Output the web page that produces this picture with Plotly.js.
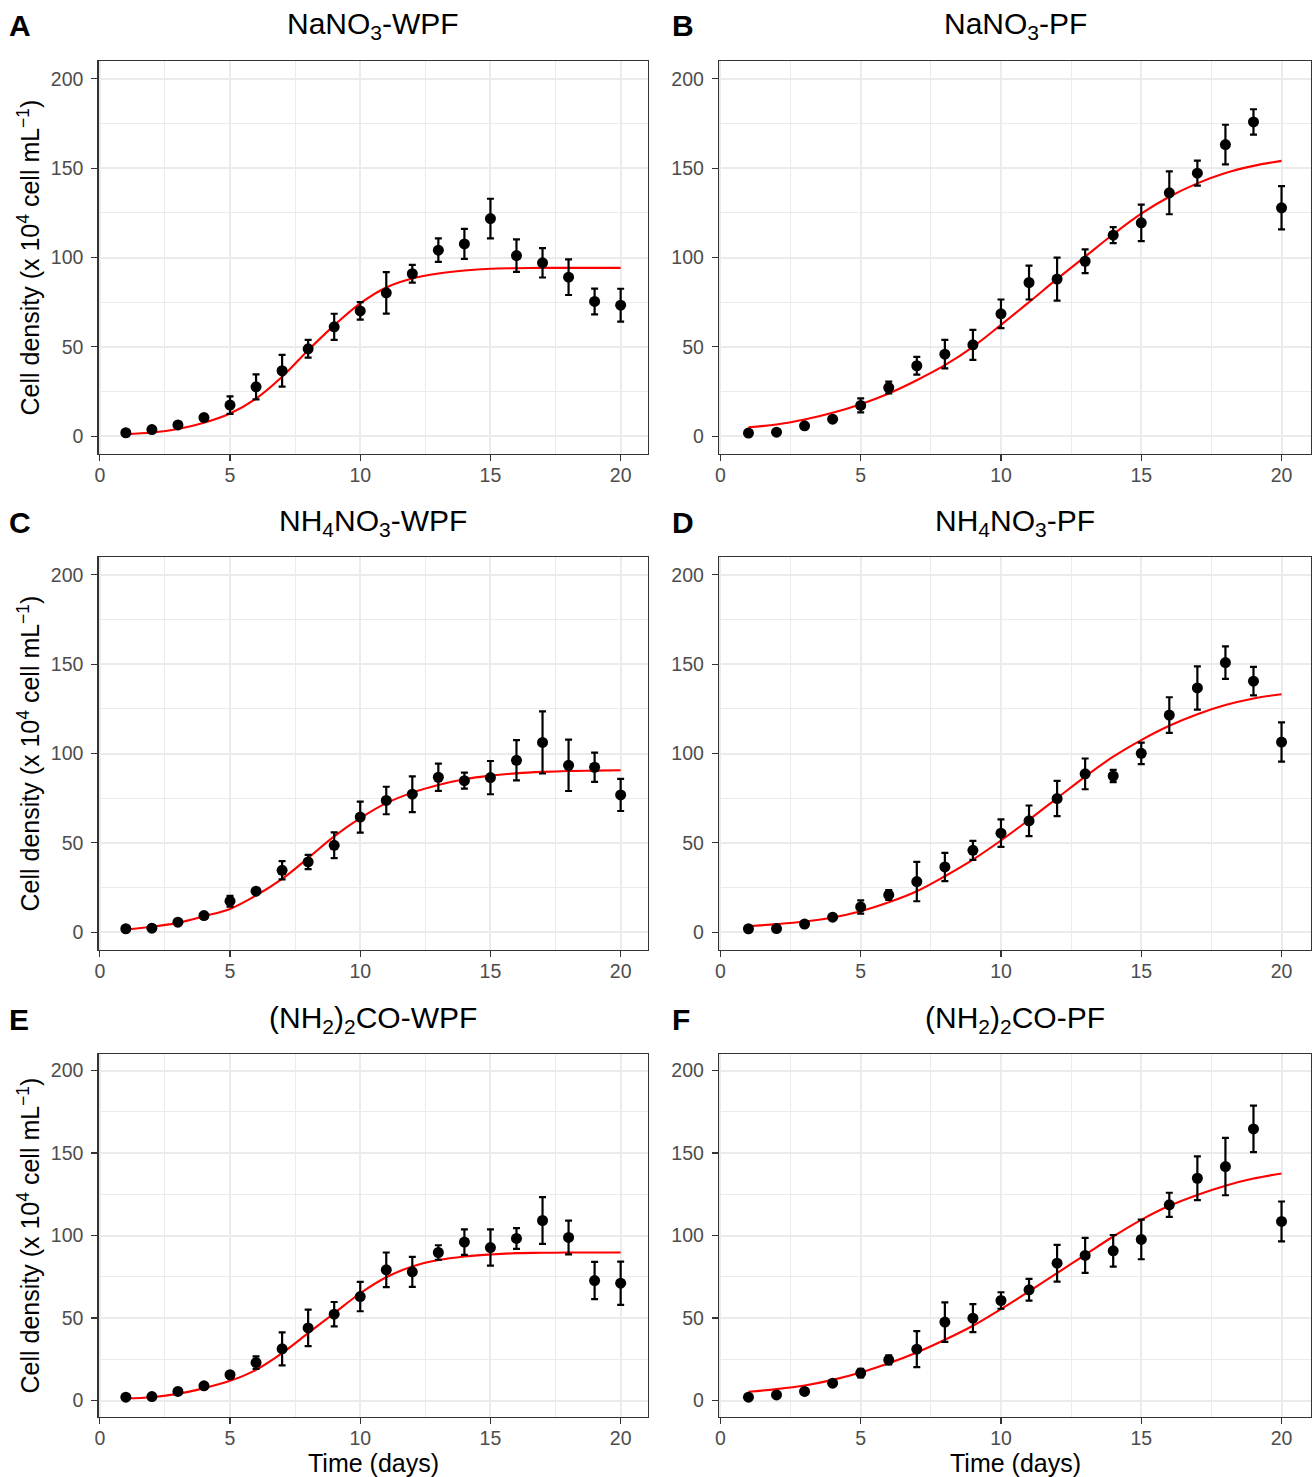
<!DOCTYPE html>
<html>
<head>
<meta charset="utf-8">
<script src="https://cdn.plot.ly/plotly-3.0.1.min.js"></script>
<style>
html,body{margin:0;padding:0;background:#ffffff;}
#chart{width:1312px;height:1477px;}
</style>
</head>
<body>
<div id="chart"></div>
<script>
// ---------------- DATA ----------------
const days = [1,2,3,4,5,6,7,8,9,10,11,12,13,14,15,16,17,18,19,20];
const xTicks = [0,5,10,15,20];
const yTicks = [0,50,100,150,200];

const panelLetters = ['A','B','C','D','E','F'];
const panelTitles = [
  'NaNO<sub>3</sub>-WPF',
  'NaNO<sub>3</sub>-PF',
  'NH<sub>4</sub>NO<sub>3</sub>-WPF',
  'NH<sub>4</sub>NO<sub>3</sub>-PF',
  '(NH<sub>2</sub>)<sub>2</sub>CO-WPF',
  '(NH<sub>2</sub>)<sub>2</sub>CO-PF'
];
const yTitle = 'Cell density (x 10<sup>4</sup> cell mL<sup>−1</sup>)';
const xTitle = 'Time (days)';

// A: NaNO3-WPF
const meanA = [1.9,3.7,6.3,10.4,17.4,27.6,36.6,48.9,61.2,70.1,80.2,90.9,104.1,107.6,121.8,101.1,97.0,89.0,75.4,73.3];
const errA  = [0.5,0.8,1.0,1.5,4.9,7.0,8.9,5.0,7.3,4.9,11.6,5.0,6.6,8.4,11.1,9.1,8.2,10.0,7.2,9.2];
const fitA  = [1.1,2.0,4.0,7.5,12.7,21.0,33.2,48.1,62.0,74.3,83.2,88.2,91.0,92.7,93.7,94.0,94.2,94.2,94.2,94.2];

// B: NaNO3-PF
const meanB = [1.7,2.2,5.8,9.5,17.2,27.2,39.4,45.9,51.1,68.5,86.0,87.9,97.9,112.5,119.4,136.2,147.2,163.2,175.9,127.8];
const errB  = [0.5,0.6,1.0,1.2,3.9,3.3,5.0,8.0,8.4,8.0,9.5,12.0,6.6,4.5,10.2,12.0,7.0,11.1,7.1,12.1];
const fitB  = [5.0,6.5,9.3,13.1,17.9,23.9,31.3,39.7,50.0,62.3,75.0,88.0,100.5,113.0,124.5,134.0,141.5,147.3,151.3,154.1];

// C: NH4NO3-WPF
const meanC = [1.9,2.2,5.6,9.3,17.3,22.9,34.6,39.3,48.6,64.4,73.7,77.2,86.7,84.8,86.5,96.2,106.2,93.4,92.3,76.8];
const errC  = [0.5,0.6,1.0,1.2,3.0,1.5,5.1,4.0,7.2,8.7,7.7,10.0,7.6,4.5,9.3,11.3,17.4,14.4,8.2,9.0];
const fitC  = [1.5,3.0,5.2,8.9,13.0,20.5,29.8,41.5,53.6,63.8,72.2,78.1,82.4,85.6,87.6,88.9,89.7,90.2,90.4,90.6];

// D: NH4NO3-PF
const meanD = [1.9,2.0,4.5,8.4,14.1,20.8,28.3,36.5,45.8,55.4,62.3,74.8,88.6,87.4,100.1,121.5,136.7,150.9,140.5,106.4];
const errD  = [0.5,0.5,0.8,1.0,3.7,2.8,11.0,7.9,5.3,7.7,8.6,9.9,8.6,3.4,6.0,10.0,12.1,9.1,8.0,11.0];
const fitD  = [3.3,4.5,6.0,8.2,11.7,16.7,22.9,31.3,40.6,51.3,62.9,75.0,87.1,98.2,107.5,115.5,122.0,127.1,130.8,133.2];

// E: (NH2)2CO-WPF
const meanE = [2.0,2.4,5.5,8.9,15.6,23.0,31.3,44.0,52.3,63.0,79.2,78.0,89.7,96.0,92.7,98.2,109.1,98.8,72.7,71.1];
const errE  = [0.5,0.5,0.8,1.0,1.5,3.8,10.0,11.1,7.4,8.9,10.5,9.1,4.4,7.7,11.0,6.3,14.2,10.2,11.3,13.1];
const fitE  = [1.2,2.0,4.0,7.5,11.9,18.6,28.7,40.8,52.9,65.0,74.7,81.2,85.1,87.3,88.5,89.3,89.5,89.7,89.7,89.7];

// F: (NH2)2CO-PF
const meanF = [2.0,3.4,5.5,10.5,16.6,24.6,31.1,47.5,49.9,60.6,67.1,83.2,87.9,90.7,97.6,118.6,134.7,141.8,164.6,108.5];
const errF  = [0.5,0.6,0.8,1.2,2.6,2.7,10.9,12.0,8.5,5.0,6.6,11.1,10.6,9.6,12.0,7.3,13.3,17.4,14.1,12.1];
const fitF  = [5.3,6.9,9.1,12.5,17.0,22.6,29.1,36.8,45.3,55.4,66.1,77.2,88.3,99.4,109.5,118.0,124.6,130.2,134.5,137.6];

const means = [meanA, meanB, meanC, meanD, meanE, meanF];
const errs  = [errA, errB, errC, errD, errE, errF];
const fits  = [fitA, fitB, fitC, fitD, fitE, fitF];

// ---------------- LAYOUT ----------------
const W = 1312, H = 1477;
const colPx = [[98.5, 648], [719, 1311]];
const rowPx = [[61, 454], [557, 950], [1054, 1417]];
const titleCenterPx = [25.5, 523, 1019];
const px2x = p => p / W;
const px2y = p => 1 - p / H;

const FONT = 'Liberation Sans, Arial, Helvetica, sans-serif';

const traces = [];
const layout = {
  width: W, height: H,
  margin: {l: 0, r: 0, t: 0, b: 0},
  paper_bgcolor: '#ffffff',
  plot_bgcolor: '#ffffff',
  showlegend: false,
  font: {family: FONT, color: '#000000'},
  annotations: []
};

for (let i = 0; i < 6; i++) {
  const row = Math.floor(i / 2), col = i % 2;
  const n = i + 1;
  const xa = n === 1 ? 'x' : 'x' + n;
  const ya = n === 1 ? 'y' : 'y' + n;
  const xKey = n === 1 ? 'xaxis' : 'xaxis' + n;
  const yKey = n === 1 ? 'yaxis' : 'yaxis' + n;

  traces.push({
    type: 'scatter', mode: 'lines',
    x: days, y: fits[i], xaxis: xa, yaxis: ya,
    line: {color: '#FF0000', width: 2.1, shape: 'spline', smoothing: 1},
    hoverinfo: 'skip'
  });
  traces.push({
    type: 'scatter', mode: 'markers',
    x: days, y: means[i], xaxis: xa, yaxis: ya,
    marker: {color: '#000000', size: 11},
    error_y: {type: 'data', array: errs[i], visible: true, color: '#000000', thickness: 2.2, width: 3.5},
    hoverinfo: 'skip'
  });

  const common = {
    showline: true, mirror: true, linecolor: '#333333', linewidth: 1.2,
    ticks: 'outside', ticklen: 6, tickwidth: 1.2, tickcolor: '#333333',
    tickfont: {family: FONT, size: 19.5, color: '#4d4d4d'},
    showgrid: true, gridcolor: '#ebebeb', gridwidth: 2,
    zeroline: false, fixedrange: true
  };
  layout[xKey] = Object.assign({}, common, {
    domain: [px2x(colPx[col][0]), px2x(colPx[col][1])],
    anchor: ya,
    range: [-0.05, 21.05],
    ticklabelstandoff: -3,
    tickmode: 'array', tickvals: xTicks, ticktext: xTicks.map(String),
    minor: {tickmode: 'array', tickvals: [2.5, 7.5, 12.5, 17.5], showgrid: true, gridcolor: '#ebebeb', gridwidth: 1, ticks: ''}
  });
  layout[yKey] = Object.assign({}, common, {
    domain: [px2y(rowPx[row][1]), px2y(rowPx[row][0])],
    anchor: xa,
    range: [-10, 210],
    ticklabelstandoff: 4,
    tickmode: 'array', tickvals: yTicks, ticktext: yTicks.map(String),
    minor: {tickmode: 'array', tickvals: [25, 75, 125, 175], showgrid: true, gridcolor: '#ebebeb', gridwidth: 1, ticks: ''}
  });

  // panel title
  layout.annotations.push({
    xref: 'paper', yref: 'paper',
    x: px2x((colPx[col][0] + colPx[col][1]) / 2), y: px2y(titleCenterPx[row]),
    xanchor: 'center', yanchor: 'middle',
    text: panelTitles[i], showarrow: false,
    font: {family: FONT, size: 30, color: '#000000'}
  });
  // panel letter
  layout.annotations.push({
    xref: 'paper', yref: 'paper',
    x: px2x(col === 0 ? 7 : 670), y: px2y(titleCenterPx[row]),
    xanchor: 'left', yanchor: 'middle',
    text: '<b>' + panelLetters[i] + '</b>', showarrow: false,
    font: {family: FONT, size: 30, color: '#000000'}
  });
  // y-axis title (left column)
  if (col === 0) {
    layout.annotations.push({
      xref: 'paper', yref: 'paper',
      x: px2x(28), y: px2y((rowPx[row][0] + rowPx[row][1]) / 2),
      xanchor: 'center', yanchor: 'middle', textangle: -90,
      text: yTitle, showarrow: false,
      font: {family: FONT, size: 25, color: '#000000'}
    });
  }
  // x-axis title (bottom row)
  if (row === 2) {
    layout.annotations.push({
      xref: 'paper', yref: 'paper',
      x: px2x((colPx[col][0] + colPx[col][1]) / 2), y: px2y(1463),
      xanchor: 'center', yanchor: 'middle',
      text: xTitle, showarrow: false,
      font: {family: FONT, size: 25, color: '#000000'}
    });
  }
}

Plotly.newPlot('chart', traces, layout, {staticPlot: true, displayModeBar: false});
</script>
</body>
</html>
